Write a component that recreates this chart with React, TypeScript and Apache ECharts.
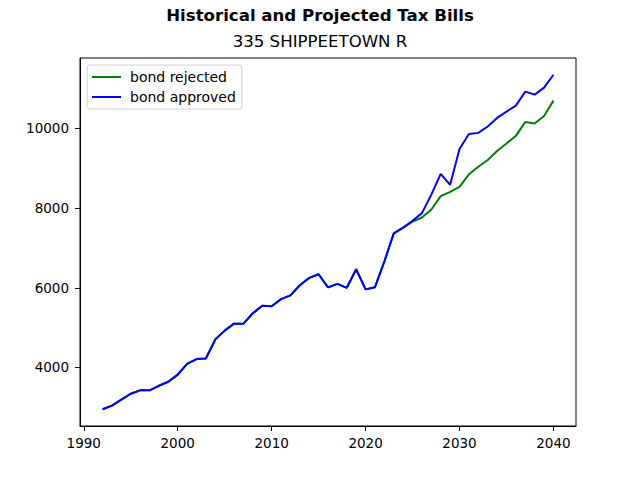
import { useEffect, useRef } from "react";
import * as echarts from "echarts";

const years = [
  1992, 1993, 1994, 1995, 1996, 1997, 1998, 1999, 2000, 2001, 2002, 2003, 2004, 2005, 2006, 2007,
  2008, 2009, 2010, 2011, 2012, 2013, 2014, 2015, 2016, 2017, 2018, 2019, 2020, 2021, 2022, 2023,
  2024, 2025, 2026, 2027, 2028, 2029, 2030, 2031, 2032, 2033, 2034, 2035, 2036, 2037, 2038, 2039,
  2040,
];

// 1992-2024, shared by both scenarios
const history = [
  2950, 3040, 3190, 3340, 3425, 3425, 3540, 3640, 3820, 4090, 4210, 4225, 4700, 4925, 5100, 5100,
  5360, 5550, 5535, 5715, 5810, 6065, 6250, 6340, 6010, 6100, 6000, 6465, 5960, 6015, 6660, 7365,
  7510,
];

// 2025-2040
const approvedProjection = [
  7685, 7875, 8340, 8860, 8585, 9485, 9860, 9890, 10050, 10265, 10425, 10575, 10925, 10850, 11025,
  11350,
];
const rejectedProjection = [
  7660, 7765, 7965, 8300, 8410, 8535, 8850, 9040, 9210, 9435, 9625, 9815, 10165, 10125, 10315,
  10700,
];

const xTicks = [1990, 2000, 2010, 2020, 2030, 2040];
const yTicks = [4000, 6000, 8000, 10000];

const font = "DejaVu Sans";

const toPairs = (values: number[]) => values.map((v, i) => [years[i], v]);

export default function App() {
  const ref = useRef<HTMLDivElement>(null);

  useEffect(() => {
    if (!ref.current) return;
    const chart = echarts.init(ref.current, undefined, { renderer: "svg" });
    const axisCommon = {
      axisLine: { show: true, lineStyle: { color: "#000", width: 1 } },
      axisTick: { show: true, length: 5, lineStyle: { color: "#000", width: 1 } },
      splitLine: { show: false },
    };
    chart.setOption({
      animation: false,
      backgroundColor: "#fff",
      textStyle: { fontFamily: font },
      title: [
        {
          text: "Historical and Projected Tax Bills",
          left: "center",
          top: 7,
          padding: 0,
          textStyle: { fontFamily: font, fontSize: 16.6, fontWeight: "bold", color: "#000" },
        },
        {
          text: "335 SHIPPEETOWN R",
          left: "center",
          top: 33,
          padding: 0,
          textStyle: { fontFamily: font, fontSize: 16.6, fontWeight: "normal", color: "#000" },
        },
      ],
      legend: {
        left: 87,
        top: 65,
        orient: "vertical",
        padding: [5, 6, 5, 5],
        itemGap: 6,
        itemWidth: 29,
        itemHeight: 2,
        icon: "rect",
        borderColor: "#d0d0d0",
        borderWidth: 1,
        borderRadius: 3,
        backgroundColor: "#fff",
        textStyle: { fontFamily: font, fontSize: 14, color: "#000", padding: [0, 0, 0, 4] },
        data: ["bond rejected", "bond approved"],
      },
      grid: {
        left: 80,
        right: 64,
        top: 58,
        bottom: 54,
        show: true,
        borderColor: "#000",
        borderWidth: 1,
        backgroundColor: "transparent",
      },
      xAxis: {
        type: "value",
        min: 1989.6,
        max: 2042.4,
        ...axisCommon,
        axisTick: { ...axisCommon.axisTick, customValues: xTicks },
        axisLabel: {
          customValues: xTicks,
          formatter: (v: number) => String(v),
          margin: 10,
          fontSize: 13.5,
          color: "#000",
          fontFamily: font,
        },
      },
      yAxis: {
        type: "value",
        min: 2530,
        max: 11770,
        ...axisCommon,
        axisTick: { ...axisCommon.axisTick, customValues: yTicks },
        axisLabel: {
          customValues: yTicks,
          formatter: (v: number) => String(v),
          margin: 11,
          fontSize: 13.5,
          color: "#000",
          fontFamily: font,
        },
      },
      series: [
        {
          name: "bond rejected",
          type: "line",
          data: toPairs([...history, ...rejectedProjection]),
          showSymbol: false,
          symbol: "none",
          lineStyle: { color: "#008000", width: 2 },
          itemStyle: { color: "#008000" },
        },
        {
          name: "bond approved",
          type: "line",
          data: toPairs([...history, ...approvedProjection]),
          showSymbol: false,
          symbol: "none",
          lineStyle: { color: "#0000ff", width: 2 },
          itemStyle: { color: "#0000ff" },
        },
      ],
    });
    return () => chart.dispose();
  }, []);

  return (
    <div
      ref={ref}
      style={{ position: "absolute", left: 0, top: 0, width: 640, height: 480 }}
    />
  );
}
